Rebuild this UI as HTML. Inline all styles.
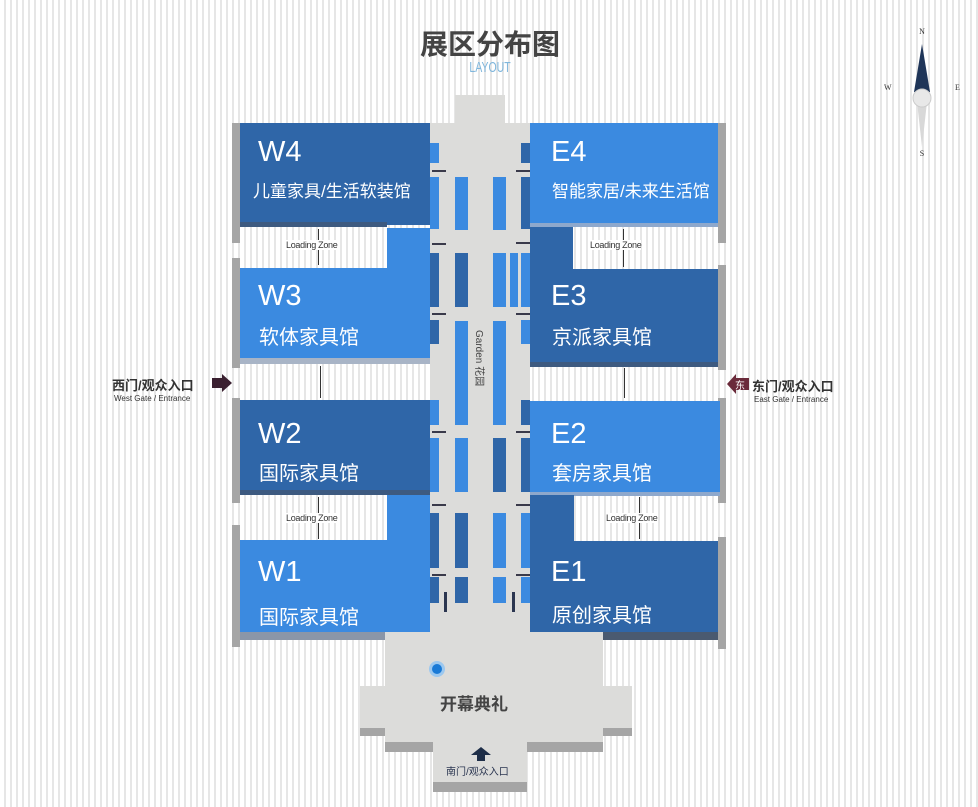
<!DOCTYPE html>
<html><head><meta charset="utf-8"><style>
body{margin:0;}
#c{position:relative;width:978px;height:807px;overflow:hidden;background:#fff repeating-linear-gradient(90deg,#fff 0,#fff 4px,#e6e6e6 4px,#e6e6e6 6px);font-family:"Liberation Sans","Noto Sans CJK SC",sans-serif;}
.a{position:absolute;}
.dk{background:#2f66a8;}
.lt{background:#3b8ae0;}
.gr{background:#dcdcda;}
.sh{background:#a5a5a5;}
.t1{position:absolute;color:#fff;font-size:29px;}
.t2{position:absolute;color:#fff;font-size:20px;white-space:nowrap;}
.lz{position:absolute;font-size:9px;color:#333;letter-spacing:-0.3px;white-space:nowrap;}
.arr{position:absolute;height:2px;background:#3a3a4a;width:14px;}
.vl{position:absolute;width:1px;background:#333;}
</style></head><body><div id="c">
<div class="a" style="left:415px;top:23px;width:150px;text-align:center;font-size:28px;font-weight:bold;color:#444;">展区分布图</div>
<div class="a" style="left:455px;top:59px;width:70px;text-align:center;font-size:15px;color:#7fb6dc;transform:scaleX(0.7);">LAYOUT</div>

<!-- compass -->
<svg class="a" style="left:870px;top:22px" width="100" height="140">
<text x="52" y="12" font-size="8" text-anchor="middle" fill="#333" font-family="Liberation Serif">N</text>
<polygon points="52,22 44,70 60,70" fill="#1f3558"/>
<polygon points="52,125 47,80 57,80" fill="#d8d8d8"/>
<circle cx="52" cy="76" r="9" fill="#e8e8e8" stroke="#ccc"/>
<text x="14" y="68" font-size="8" fill="#333" font-family="Liberation Serif">W</text>
<text x="85" y="68" font-size="8" fill="#333" font-family="Liberation Serif">E</text>
<text x="52" y="134" font-size="8" text-anchor="middle" fill="#333" font-family="Liberation Serif">S</text>
</svg>

<!-- central aisle -->
<div class="a gr" style="left:455px;top:95px;width:50px;height:30px;"></div>
<div class="a gr" style="left:430px;top:123px;width:100px;height:520px;"></div>
<div class="a gr" style="left:385px;top:632px;width:218px;height:110px;"></div>
<div class="a gr" style="left:360px;top:686px;width:272px;height:42px;"></div>
<div class="a sh" style="left:360px;top:728px;width:25px;height:8px;"></div>
<div class="a sh" style="left:603px;top:728px;width:29px;height:8px;"></div>
<div class="a sh" style="left:385px;top:742px;width:48px;height:10px;"></div>
<div class="a sh" style="left:527px;top:742px;width:76px;height:10px;"></div>
<div class="a gr" style="left:433px;top:742px;width:94px;height:44px;"></div>
<div class="a sh" style="left:433px;top:782px;width:94px;height:10px;"></div>
<div class="a" style="left:233px;top:632px;width:152px;height:8px;background:#8a96a8;"></div>
<div class="a" style="left:603px;top:632px;width:120px;height:8px;background:#4a5a70;"></div>

<!-- aisle bars -->
<div class="a lt" style="left:430px;top:143px;width:9px;height:20px;"></div>
<div class="a dk" style="left:521px;top:143px;width:9px;height:20px;"></div>
<div class="a lt" style="left:430px;top:177px;width:9px;height:52px;"></div>
<div class="a dk" style="left:521px;top:177px;width:9px;height:52px;"></div>
<div class="a lt" style="left:455px;top:177px;width:13px;height:53px;"></div>
<div class="a lt" style="left:493px;top:177px;width:13px;height:53px;"></div>
<div class="a dk" style="left:430px;top:253px;width:9px;height:54px;"></div>
<div class="a dk" style="left:455px;top:253px;width:13px;height:54px;"></div>
<div class="a lt" style="left:493px;top:253px;width:13px;height:54px;"></div>
<div class="a lt" style="left:510px;top:253px;width:8px;height:54px;"></div>
<div class="a lt" style="left:521px;top:253px;width:9px;height:54px;"></div>
<div class="a dk" style="left:430px;top:320px;width:9px;height:24px;"></div>
<div class="a lt" style="left:521px;top:320px;width:9px;height:24px;"></div>
<div class="a lt" style="left:455px;top:321px;width:13px;height:104px;"></div>
<div class="a lt" style="left:493px;top:321px;width:13px;height:104px;"></div>
<div class="a lt" style="left:430px;top:400px;width:9px;height:25px;"></div>
<div class="a dk" style="left:521px;top:400px;width:9px;height:25px;"></div>
<div class="a lt" style="left:430px;top:438px;width:9px;height:54px;"></div>
<div class="a dk" style="left:521px;top:438px;width:9px;height:54px;"></div>
<div class="a lt" style="left:455px;top:438px;width:13px;height:54px;"></div>
<div class="a dk" style="left:493px;top:438px;width:13px;height:54px;"></div>
<div class="a dk" style="left:430px;top:513px;width:9px;height:55px;"></div>
<div class="a lt" style="left:521px;top:513px;width:9px;height:55px;"></div>
<div class="a dk" style="left:455px;top:513px;width:13px;height:55px;"></div>
<div class="a lt" style="left:493px;top:513px;width:13px;height:55px;"></div>
<div class="a dk" style="left:430px;top:577px;width:9px;height:26px;"></div>
<div class="a lt" style="left:521px;top:577px;width:9px;height:26px;"></div>
<div class="a dk" style="left:455px;top:577px;width:13px;height:26px;"></div>
<div class="a lt" style="left:493px;top:577px;width:13px;height:26px;"></div>
<div class="a" style="left:462px;top:330px;width:40px;height:70px;"><div style="position:absolute;left:20px;top:0;transform-origin:0 0;transform:rotate(90deg) translate(0,-6px);font-size:10px;color:#444;white-space:nowrap;">Garden 花园</div></div>

<!-- arrows -->
<div class="arr" style="left:432px;top:170px;"></div><div class="arr" style="left:516px;top:170px;"></div>
<div class="arr" style="left:432px;top:243px;"></div><div class="arr" style="left:516px;top:242px;"></div>
<div class="arr" style="left:432px;top:313px;"></div><div class="arr" style="left:516px;top:313px;"></div>
<div class="arr" style="left:432px;top:431px;"></div><div class="arr" style="left:516px;top:431px;"></div>
<div class="arr" style="left:432px;top:504px;"></div><div class="arr" style="left:516px;top:504px;"></div>
<div class="arr" style="left:432px;top:574px;"></div><div class="arr" style="left:516px;top:574px;"></div>
<div class="a" style="left:444px;top:592px;width:3px;height:20px;background:#2b3650;"></div>
<div class="a" style="left:512px;top:592px;width:3px;height:20px;background:#2b3650;"></div>

<!-- side shadows -->
<div class="a sh" style="left:232px;top:123px;width:8px;height:120px;"></div>
<div class="a sh" style="left:232px;top:258px;width:8px;height:110px;"></div>
<div class="a sh" style="left:232px;top:398px;width:8px;height:105px;"></div>
<div class="a sh" style="left:232px;top:525px;width:8px;height:122px;"></div>
<div class="a sh" style="left:718px;top:123px;width:8px;height:120px;"></div>
<div class="a sh" style="left:718px;top:265px;width:8px;height:105px;"></div>
<div class="a sh" style="left:718px;top:398px;width:8px;height:105px;"></div>
<div class="a sh" style="left:718px;top:537px;width:8px;height:112px;"></div>

<!-- W4 -->
<div class="a dk" style="left:240px;top:123px;width:190px;height:102px;"></div>
<div class="a" style="left:240px;top:222px;width:147px;height:5px;background:#3d5a80;"></div>
<div class="t1" style="left:258px;top:136px;">W4</div>
<div class="t2" style="left:253px;top:177px;font-size:17px;">儿童家具/生活软装馆</div>
<!-- W3 -->
<div class="a lt" style="left:387px;top:228px;width:43px;height:130px;"></div>
<div class="a lt" style="left:240px;top:268px;width:190px;height:90px;"></div>
<div class="a" style="left:240px;top:358px;width:190px;height:6px;background:#a8b4c6;"></div>
<div class="t1" style="left:258px;top:280px;">W3</div>
<div class="t2" style="left:259px;top:321px;">软体家具馆</div>
<!-- W2 -->
<div class="a dk" style="left:240px;top:400px;width:190px;height:92px;"></div>
<div class="a" style="left:240px;top:490px;width:190px;height:5px;background:#3d5a80;"></div>
<div class="t1" style="left:258px;top:418px;">W2</div>
<div class="t2" style="left:259px;top:457px;">国际家具馆</div>
<!-- W1 -->
<div class="a lt" style="left:387px;top:495px;width:43px;height:137px;"></div>
<div class="a lt" style="left:240px;top:540px;width:190px;height:92px;"></div>
<div class="t1" style="left:258px;top:556px;">W1</div>
<div class="t2" style="left:259px;top:601px;">国际家具馆</div>

<!-- E4 -->
<div class="a lt" style="left:530px;top:123px;width:188px;height:100px;"></div>
<div class="a" style="left:530px;top:223px;width:188px;height:4px;background:#8ea8cc;"></div>
<div class="t1" style="left:551px;top:136px;">E4</div>
<div class="t2" style="left:552px;top:177px;font-size:17px;">智能家居/未来生活馆</div>
<!-- E3 -->
<div class="a dk" style="left:530px;top:227px;width:43px;height:135px;"></div>
<div class="a dk" style="left:530px;top:269px;width:188px;height:93px;"></div>
<div class="a" style="left:530px;top:362px;width:188px;height:5px;background:#3d5a80;"></div>
<div class="t1" style="left:551px;top:280px;">E3</div>
<div class="t2" style="left:552px;top:321px;">京派家具馆</div>
<!-- E2 -->
<div class="a lt" style="left:530px;top:401px;width:190px;height:91px;"></div>
<div class="a" style="left:530px;top:492px;width:190px;height:4px;background:#8ea8cc;"></div>
<div class="t1" style="left:551px;top:418px;">E2</div>
<div class="t2" style="left:552px;top:457px;">套房家具馆</div>
<!-- E1 -->
<div class="a dk" style="left:530px;top:495px;width:44px;height:137px;"></div>
<div class="a dk" style="left:530px;top:541px;width:188px;height:91px;"></div>
<div class="t1" style="left:551px;top:556px;">E1</div>
<div class="t2" style="left:552px;top:599px;">原创家具馆</div>

<!-- loading zones -->
<div class="vl" style="left:318px;top:229px;height:36px;"></div>
<div class="lz" style="left:286px;top:240px;background:#fff;">Loading Zone</div>
<div class="vl" style="left:623px;top:229px;height:38px;"></div>
<div class="lz" style="left:590px;top:240px;background:#fff;">Loading Zone</div>
<div class="vl" style="left:320px;top:366px;height:32px;"></div>
<div class="vl" style="left:624px;top:368px;height:30px;"></div>
<div class="vl" style="left:318px;top:497px;height:42px;"></div>
<div class="lz" style="left:286px;top:513px;background:#fff;">Loading Zone</div>
<div class="vl" style="left:639px;top:497px;height:42px;"></div>
<div class="lz" style="left:606px;top:513px;background:#fff;">Loading Zone</div>

<!-- gates -->
<div class="a" style="left:112px;top:375px;font-size:13px;font-weight:bold;color:#333;white-space:nowrap;">西门/观众入口</div>
<div class="a" style="left:114px;top:394px;font-size:8px;color:#333;white-space:nowrap;">West Gate / Entrance</div>
<svg class="a" style="left:212px;top:374px" width="22" height="18"><polygon points="0,4 10,4 10,0 20,9 10,18 10,14 0,14" fill="#3a2030"/></svg>
<svg class="a" style="left:727px;top:374px" width="24" height="20"><polygon points="0,10 9,0 9,4 22,4 22,16 9,16 9,20" fill="#6a2a3a"/><text x="13" y="15" font-size="10" fill="#fff" text-anchor="middle">东</text></svg>
<div class="a" style="left:752px;top:376px;font-size:13px;font-weight:bold;color:#333;white-space:nowrap;">东门/观众入口</div>
<div class="a" style="left:754px;top:395px;font-size:8px;color:#333;white-space:nowrap;">East Gate / Entrance</div>

<!-- plaza -->
<div class="a" style="left:429px;top:661px;width:16px;height:16px;border-radius:50%;background:#9cc8ef;"></div>
<div class="a" style="left:432px;top:664px;width:10px;height:10px;border-radius:50%;background:#1a7ad6;"></div>
<div class="a" style="left:440px;top:690px;font-size:17px;font-weight:bold;color:#444;white-space:nowrap;">开幕典礼</div>
<svg class="a" style="left:471px;top:747px" width="20" height="14"><polygon points="10,0 20,8 14,8 14,14 6,14 6,8 0,8" fill="#1e2e48"/></svg>
<div class="a" style="left:446px;top:763px;font-size:10px;color:#2a3550;white-space:nowrap;">南门/观众入口</div>
</div></body></html>
